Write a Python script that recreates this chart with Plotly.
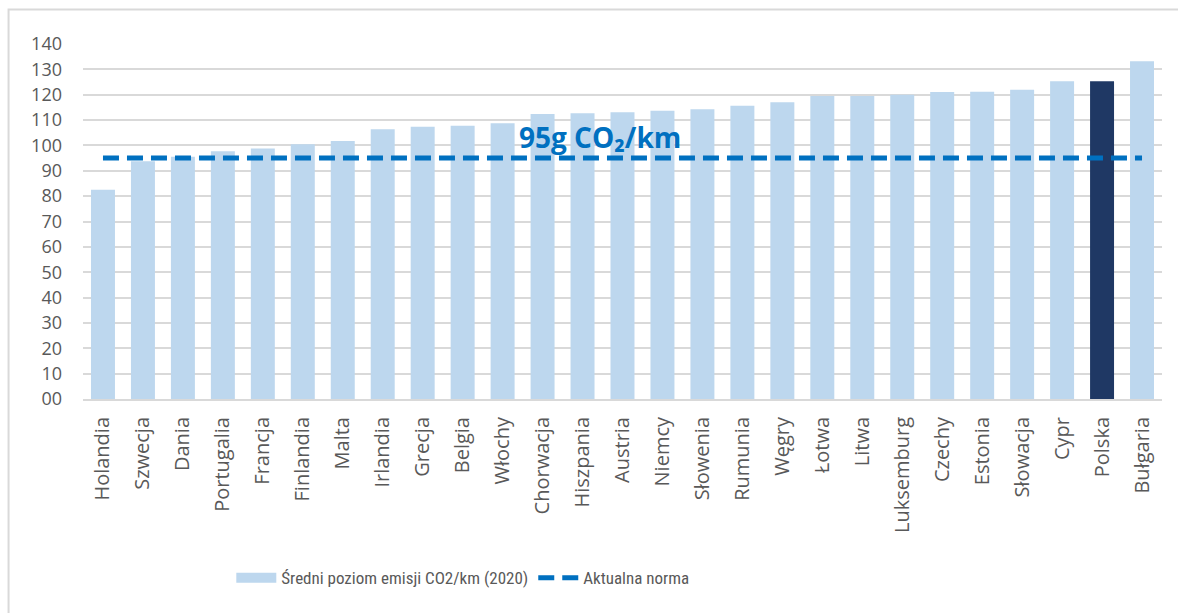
import plotly.graph_objects as go

countries = ["Holandia", "Szwecja", "Dania", "Portugalia", "Francja", "Finlandia", "Malta",
             "Irlandia", "Grecja", "Belgia", "Włochy", "Chorwacja", "Hiszpania", "Austria",
             "Niemcy", "Słowenia", "Rumunia", "Węgry", "Łotwa", "Litwa", "Luksemburg",
             "Czechy", "Estonia", "Słowacja", "Cypr", "Polska", "Bułgaria"]
emissions = [82.5, 93.8, 95.5, 97.7, 98.8, 100.5, 101.7, 106.4, 107.4, 107.8, 108.7, 112.4,
             112.7, 113.1, 113.7, 114.3, 115.6, 117.0, 119.5, 119.5, 120.0, 121.1, 121.2,
             122.0, 125.3, 125.3, 133.2]
norm_value = 95
highlight = "Polska"
y_ticks = list(range(0, 141, 10))
y_tick_text = ["00"] + [str(v) for v in y_ticks[1:]]
bar_name = "Średni poziom emisji CO2/km (2020)"
line_name = "Aktualna norma"

LIGHT = "#BDD7EE"
DARK = "#1F3864"
LINE = "#0070C0"
GRAY = "#595959"
FONT = "Open Sans"

bar_colors = [DARK if c == highlight else LIGHT for c in countries]

fig = go.Figure()
fig.add_trace(go.Bar(
    x=countries, y=emissions, marker=dict(color=bar_colors, line=dict(width=0)),
    name=bar_name, showlegend=False,
))
# legend entry for the bars (wide swatch like the original)
fig.add_trace(go.Scatter(
    x=[None], y=[None], mode="lines", line=dict(color=LIGHT, width=15),
    name=bar_name, hoverinfo="skip",
))
fig.add_trace(go.Scatter(
    x=countries, y=[norm_value] * len(countries), mode="lines",
    line=dict(color=LINE, width=5, dash="16px,8px"),
    name=line_name,
))

fig.add_annotation(
    x=0.479, y=0.738, xref="paper", yref="paper",
    text="<b>95g CO₂/km</b>", showarrow=False,
    font=dict(family=FONT, size=28, color=LINE),
    xanchor="center", yanchor="middle",
)

# outer frame
fig.add_shape(type="rect", xref="paper", yref="paper",
              x0=-0.069, x1=1.2, y0=-0.8, y1=1.097,
              line=dict(color="#D9D9D9", width=2), fillcolor="rgba(0,0,0,0)", layer="below")

fig.update_layout(
    width=1178, height=613,
    margin=dict(l=83, r=16, t=44, b=214, autoexpand=False),
    paper_bgcolor="white", plot_bgcolor="white",
    bargap=0.4,
    font=dict(family=FONT, size=17, color=GRAY),
    showlegend=True,
    legend=dict(orientation="h", x=0.352, xanchor="center", y=-0.505, yanchor="middle",
                font=dict(family="Liberation Sans Narrow, Roboto Condensed, Lato", size=17,
                          color=GRAY),
                traceorder="normal", itemwidth=40),
    xaxis=dict(tickangle=-90, showgrid=False, showline=True, linecolor="#D9D9D9", linewidth=2,
               ticks="", tickfont=dict(family=FONT, size=20, color=GRAY),
               ticklabelstandoff=8, automargin=False,
               range=[-0.5, len(countries) - 0.5]),
    yaxis=dict(range=[0, 140], tickvals=y_ticks, ticktext=y_tick_text,
               showgrid=True, gridcolor="#D9D9D9", gridwidth=2, zeroline=False,
               ticks="", tickfont=dict(family=FONT, size=18, color=GRAY), ticklabelstandoff=20,
               automargin=False),
)

fig.write_html("out.html")
